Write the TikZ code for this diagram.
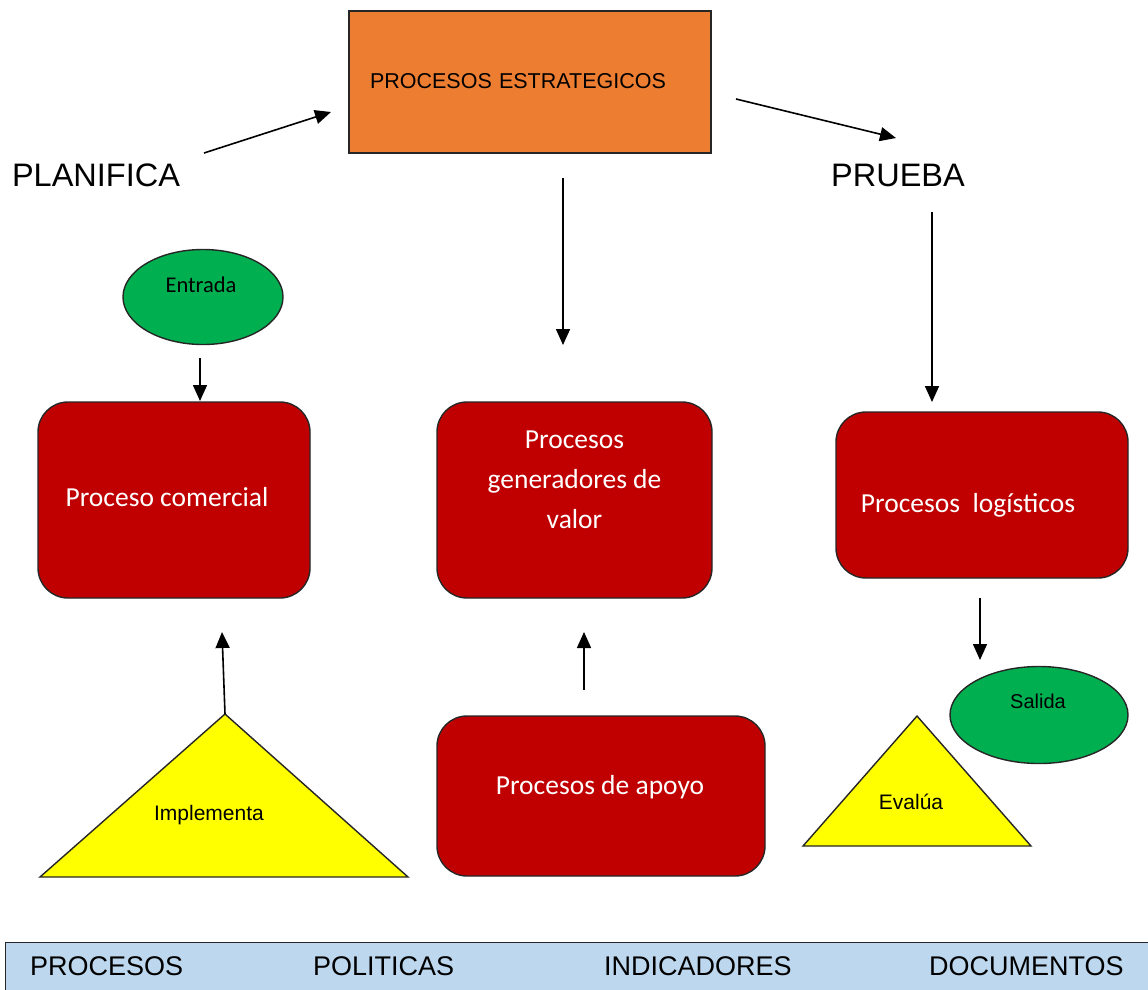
\documentclass[tikz,border=0pt]{standalone}
\usepackage{fontspec}
\setmainfont{Liberation Sans}
\newfontfamily\calibri{Carlito}
\usetikzlibrary{arrows.meta,shapes.geometric}
\definecolor{strat}{HTML}{ED7D31}
\definecolor{proc}{HTML}{C00000}
\definecolor{ovalgreen}{HTML}{00B050}
\definecolor{trifill}{HTML}{FFFF00}
\definecolor{barblue}{HTML}{BDD7EE}
\tikzset{
  conn/.style={line width=1.6pt, -{Triangle[length=16pt,width=14pt]}},
  procbox/.style={draw=black!85, line width=1.4pt, fill=proc, rounded corners=30pt, inner sep=0pt},
  proctext/.style={text=white, font=\calibri\fontsize{27.5}{40}\selectfont, align=center},
  oval/.style={ellipse, draw=black!85, line width=1.4pt, fill=ovalgreen, inner sep=0pt},
  tri/.style={draw=black!85, line width=1.4pt, fill=trifill, line join=miter},
  bigword/.style={font=\fontsize{32.5}{36}\selectfont, inner sep=0pt},
  barword/.style={font=\fontsize{27}{30}\selectfont, inner sep=0pt, anchor=west},
  smallword/.style={font=\fontsize{21}{24}\selectfont, inner sep=0pt},
}
\begin{document}
\begin{tikzpicture}[x=1pt,y=-1pt]
\useasboundingbox (0,0) rectangle (1148,989);
\clip (0,0) rectangle (1148,989);

% strategic processes
\node[draw=black!85, line width=1.4pt, fill=strat, minimum width=362pt, minimum height=142pt,
      text width=320pt, inner xsep=21pt, align=left, font=\fontsize{21.5}{24}\selectfont]
      (estr) at (530,82) {\raisebox{2pt}{PROCESOS ESTRATEGICOS}};

\node[bigword] (planifica) at (96,175) {PLANIFICA};
\node[bigword] (prueba) at (898,175) {PRUEBA};

% input
\node[oval, minimum width=160pt, minimum height=95pt] (entrada) at (203,297) {};
\node[font=\calibri\fontsize{22.5}{26}\selectfont, inner sep=0pt] at (201,285) {Entrada};

% main process boxes
\node[procbox, minimum width=272pt, minimum height=196pt] (comercial) at (174,500) {};
\node[proctext] at (167,497) {Proceso comercial};

\node[procbox, minimum width=275pt, minimum height=196pt] (valor) at (574.5,500) {};
\node[proctext] at (574.5,480) {Procesos\\generadores de\\valor};

\node[procbox, minimum width=292pt, minimum height=166pt] (logis) at (982,495) {};
\node[proctext] at (968,505) {Procesos\ \ logísticos};

\node[procbox, minimum width=328pt, minimum height=160pt] (apoyo) at (601,796) {};
\node[proctext] at (600,787) {Procesos de apoyo};

% output
\node[oval, minimum width=178pt, minimum height=97pt] (salida) at (1039,715) {};
\node[smallword, font=\fontsize{20}{24}\selectfont] at (1038,701) {Salida};

% triangles
\coordinate (impA) at (225,714);
\draw[tri] (impA) -- (408,877) -- (40,877) -- cycle;
\node[smallword] (impl) at (209,815) {Implementa};

\coordinate (evaA) at (917,716);
\draw[tri] (evaA) -- (1031,846) -- (803,846) -- cycle;
\node[smallword] (evalua) at (911,802) {Evalúa};

% free connector ends
\coordinate (p1) at (204,153);   \coordinate (p2) at (331,112);
\coordinate (q1) at (736,99);    \coordinate (q2) at (896,138);
\coordinate (m1) at (563,178);   \coordinate (m2) at (563,345);
\coordinate (r1) at (932,212);   \coordinate (r2) at (932,402);
\coordinate (e1) at (200,358);   \coordinate (e2) at (200,401);
\coordinate (i2) at (222,632);
\coordinate (a1) at (584,690);   \coordinate (a2) at (584,632);
\coordinate (l1) at (980,598);   \coordinate (l2) at (980,660);

\draw[conn] (p1) -- (p2);
\draw[conn] (q1) -- (q2);
\draw[conn] (m1) -- (m2);
\draw[conn] (r1) -- (r2);
\draw[conn] (e1) -- (e2);
\draw[conn] (impA) -- (i2);
\draw[conn] (a1) -- (a2);
\draw[conn] (l1) -- (l2);

% bottom bar
\node[draw=black!85, line width=1.4pt, fill=barblue, anchor=north west,
      minimum width=1180pt, minimum height=80pt, inner sep=0pt] (bar) at (5,942) {};
\node[barword] (b1) at (30,966) {PROCESOS};
\node[barword] (b2) at (313,966) {POLITICAS};
\node[barword] (b3) at (604,966) {INDICADORES};
\node[barword] (b4) at (929,966) {DOCUMENTOS};
\end{tikzpicture}
\end{document}
